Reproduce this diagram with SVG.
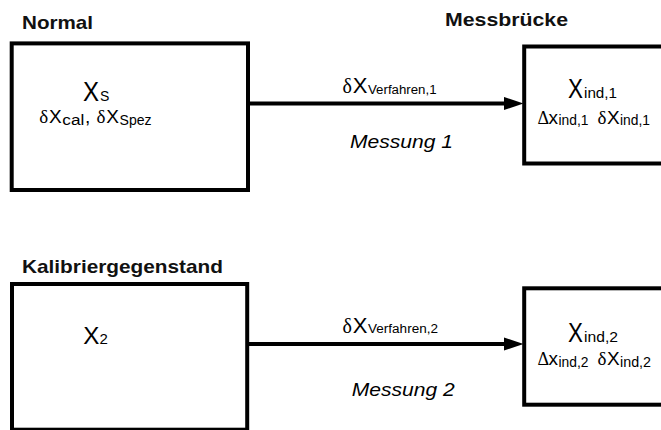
<svg xmlns="http://www.w3.org/2000/svg" width="661" height="430" viewBox="0 0 661 430">
<defs>
<style>
.box{fill:none;stroke:#000;stroke-width:4}
.title{font-family:"Liberation Sans",Arial,sans-serif;font-weight:bold;font-size:19px;fill:#111}
.s{font-family:"Liberation Sans",Arial,sans-serif;fill:#000}
.g{font-family:"Liberation Serif","Times New Roman",serif;fill:#000}
.it{font-family:"Liberation Sans",Arial,sans-serif;font-style:italic;font-size:18px;fill:#000}
.conn{stroke:#000;stroke-width:4;fill:none}
</style>
<marker id="ah" markerUnits="userSpaceOnUse" markerWidth="20" markerHeight="14" refX="1.5" refY="6.7" orient="auto">
<path d="M0,0 L20,6.7 L0,13.4 z" fill="#000"/>
</marker>
</defs>
<rect width="661" height="430" fill="#fff"/>

<g id="normal">
<text class="title" x="22" y="29" textLength="71" lengthAdjust="spacingAndGlyphs">Normal</text>
<rect class="box" x="11.7" y="43.4" width="236.3" height="146.6"/>
<text class="s" font-size="28" transform="translate(83,100.5) scale(0.86,1)">X</text>
<text class="s" font-size="14" x="100" y="100.5">S</text>
<text y="122.5"><tspan class="g" font-size="19" x="39.3">δ</tspan><tspan class="s" font-size="19" x="49">X</tspan><tspan class="s" font-size="14" x="62.3" y="124.5" textLength="22" lengthAdjust="spacingAndGlyphs">cal</tspan><tspan class="s" font-size="19" x="85" y="122.5">,</tspan><tspan class="g" font-size="19" x="96.5">δ</tspan><tspan class="s" font-size="19" x="106.3">X</tspan><tspan class="s" font-size="14" x="119.6" y="124.5" textLength="32" lengthAdjust="spacingAndGlyphs">Spez</tspan></text>
</g>

<g id="messbruecke">
<text class="title" x="445" y="26" textLength="123" lengthAdjust="spacingAndGlyphs">Messbrücke</text>
<rect class="box" x="524.2" y="46.5" width="200" height="117"/>
<text class="s" font-size="28" transform="translate(568,98) scale(0.8,1)">X</text>
<text class="s" font-size="15" x="584" y="98" textLength="33" lengthAdjust="spacingAndGlyphs">ind,1</text>
<text y="123.5"><tspan class="g" font-size="18" x="537.5">Δ</tspan><tspan class="s" font-size="19" x="548.5">x</tspan><tspan class="s" font-size="14" x="558.5" y="125" textLength="30" lengthAdjust="spacingAndGlyphs">ind,1</tspan><tspan class="g" font-size="19" x="597.5" y="123.5">δ</tspan><tspan class="s" font-size="19" x="607">X</tspan><tspan class="s" font-size="14" x="620" y="125" textLength="30" lengthAdjust="spacingAndGlyphs">ind,1</tspan></text>
</g>

<g id="kalibriergegenstand">
<text class="title" x="22" y="273.3" textLength="201" lengthAdjust="spacingAndGlyphs">Kalibriergegenstand</text>
<rect class="box" x="12" y="284" width="235.2" height="145.7"/>
<text class="s" font-size="23" transform="translate(83.3,344) scale(1.05,1)">X</text>
<text class="s" font-size="15" x="99.5" y="344">2</text>
</g>

<g id="messbruecke2">
<rect class="box" x="524.2" y="288.3" width="200" height="116.4"/>
<text class="s" font-size="28" transform="translate(568,341.7) scale(0.8,1)">X</text>
<text class="s" font-size="15" x="584" y="341.7" textLength="34" lengthAdjust="spacingAndGlyphs">ind,2</text>
<text y="365.3"><tspan class="g" font-size="18" x="537.5">Δ</tspan><tspan class="s" font-size="19" x="548.5">x</tspan><tspan class="s" font-size="14" x="558.5" y="366.8" textLength="30" lengthAdjust="spacingAndGlyphs">ind,2</tspan><tspan class="g" font-size="19" x="597.5" y="365.3">δ</tspan><tspan class="s" font-size="19" x="607">X</tspan><tspan class="s" font-size="14" x="620" y="366.8" textLength="31" lengthAdjust="spacingAndGlyphs">ind,2</tspan></text>
</g>

<g id="connectors">
<g id="messung1">
<line class="conn" x1="249" y1="103.5" x2="505" y2="103.5" marker-end="url(#ah)"/>
<text y="93.3"><tspan class="g" font-size="20" x="342.5">δ</tspan><tspan class="s" font-size="22" x="352.8">X</tspan><tspan class="s" font-size="12" x="368" y="94" textLength="68.5" lengthAdjust="spacingAndGlyphs">Verfahren,1</tspan></text>
<text class="it" x="350" y="148.3" textLength="103" lengthAdjust="spacingAndGlyphs">Messung 1</text>
</g>
<g id="messung2">
<line class="conn" x1="249" y1="344" x2="505" y2="344" marker-end="url(#ah)"/>
<text y="332.7"><tspan class="g" font-size="20" x="342.5">δ</tspan><tspan class="s" font-size="22" x="352.8">X</tspan><tspan class="s" font-size="12" x="368" y="333.4" textLength="70" lengthAdjust="spacingAndGlyphs">Verfahren,2</tspan></text>
<text class="it" x="351.7" y="396" textLength="103" lengthAdjust="spacingAndGlyphs">Messung 2</text>
</g>
</g>
</svg>
